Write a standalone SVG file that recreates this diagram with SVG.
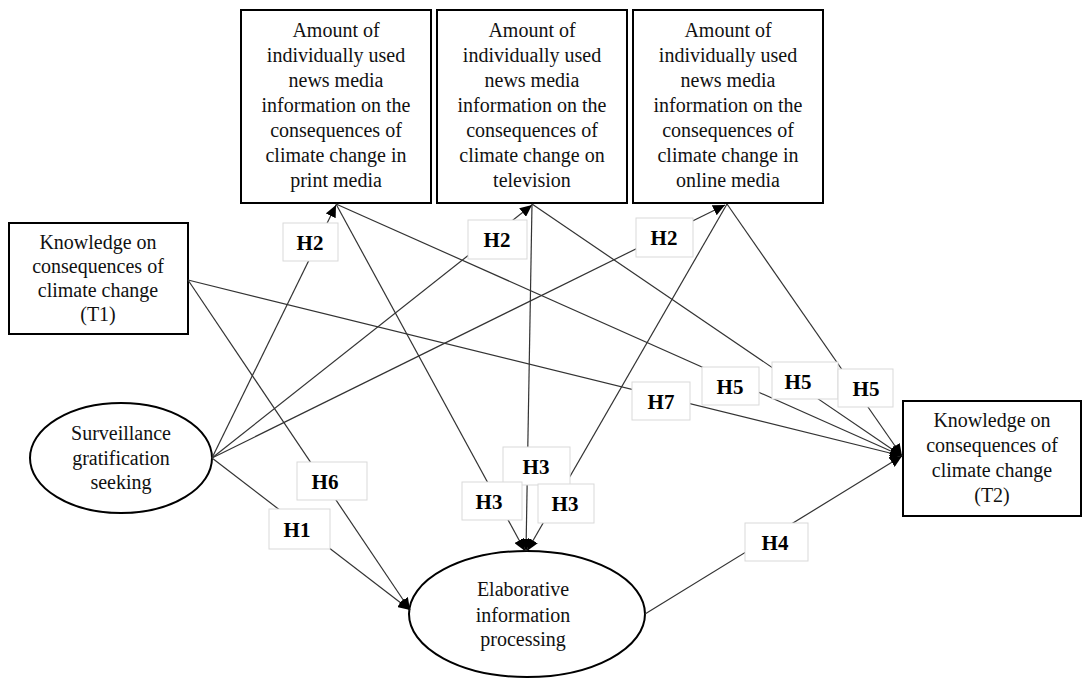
<svg xmlns="http://www.w3.org/2000/svg" width="1087" height="678" viewBox="0 0 1087 678">
<style>
  .box { fill: #fff; stroke: #000; stroke-width: 2; }
  .ell { fill: #fff; stroke: #000; stroke-width: 2; }
  .t { font-family: "Liberation Serif", "Times New Roman", serif; font-size: 20px; fill: #111; text-anchor: middle; }
  .lab rect { fill: #fff; stroke: #d9d9d9; stroke-width: 1; }
  .lab text { font-family: "Liberation Serif", "Times New Roman", serif; font-size: 21px; font-weight: bold; fill: #000; text-anchor: middle; }
  .c line { stroke: #333; stroke-width: 1.2; fill: none; }
  .a { marker-end: url(#arr); }
</style>
<defs>
  <marker id="arr" markerUnits="userSpaceOnUse" markerWidth="13" markerHeight="11" refX="12" refY="5.5" orient="auto">
    <path d="M0,0 L12,5.5 L0,11 Z" fill="#000"/>
  </marker>
</defs>
<rect width="1087" height="678" fill="#fff"/>

<g id="node-print">
  <rect class="box" x="241" y="10" width="190" height="193"/>
  <text class="t" x="336" y="37">Amount of</text>
  <text class="t" x="336" y="62">individually used</text>
  <text class="t" x="336" y="87">news media</text>
  <text class="t" x="336" y="112">information on the</text>
  <text class="t" x="336" y="137">consequences of</text>
  <text class="t" x="336" y="162">climate change in</text>
  <text class="t" x="336" y="187">print media</text>
</g>
<g id="node-tv">
  <rect class="box" x="437" y="10" width="190" height="193"/>
  <text class="t" x="532" y="37">Amount of</text>
  <text class="t" x="532" y="62">individually used</text>
  <text class="t" x="532" y="87">news media</text>
  <text class="t" x="532" y="112">information on the</text>
  <text class="t" x="532" y="137">consequences of</text>
  <text class="t" x="532" y="162">climate change on</text>
  <text class="t" x="532" y="187">television</text>
</g>
<g id="node-online">
  <rect class="box" x="633" y="10" width="190" height="193"/>
  <text class="t" x="728" y="37">Amount of</text>
  <text class="t" x="728" y="62">individually used</text>
  <text class="t" x="728" y="87">news media</text>
  <text class="t" x="728" y="112">information on the</text>
  <text class="t" x="728" y="137">consequences of</text>
  <text class="t" x="728" y="162">climate change in</text>
  <text class="t" x="728" y="187">online media</text>
</g>
<g id="node-t1">
  <rect class="box" x="9" y="223" width="179" height="111"/>
  <text class="t" x="98" y="249">Knowledge on</text>
  <text class="t" x="98" y="273">consequences of</text>
  <text class="t" x="98" y="297">climate change</text>
  <text class="t" x="98" y="321">(T1)</text>
</g>
<g id="node-surv">
  <ellipse class="ell" cx="121" cy="458" rx="91" ry="55"/>
  <text class="t" x="121" y="440">Surveillance</text>
  <text class="t" x="121" y="465">gratification</text>
  <text class="t" x="121" y="489">seeking</text>
</g>
<g id="node-elab">
  <ellipse class="ell" cx="527" cy="614" rx="118" ry="63"/>
  <text class="t" x="523" y="596">Elaborative</text>
  <text class="t" x="523" y="622">information</text>
  <text class="t" x="523" y="646">processing</text>
</g>
<g id="node-t2">
  <rect class="box" x="903" y="401" width="178" height="115"/>
  <text class="t" x="992" y="427">Knowledge on</text>
  <text class="t" x="992" y="452">consequences of</text>
  <text class="t" x="992" y="477">climate change</text>
  <text class="t" x="992" y="502">(T2)</text>
</g>

<g id="connectors" class="c">
  <line class="a" x1="212" y1="458" x2="336" y2="205"/>
  <line class="a" x1="212" y1="458" x2="532" y2="205"/>
  <line class="a" x1="212" y1="458" x2="725" y2="205"/>
  <line class="a" x1="212" y1="458" x2="410" y2="610"/>
  <line class="a" x1="188" y1="280" x2="410" y2="610"/>
  <line class="a" x1="188" y1="280" x2="902" y2="456"/>
  <line class="a" x1="336" y1="204" x2="525" y2="551"/>
  <line class="a" x1="532" y1="204" x2="526" y2="551"/>
  <line class="a" x1="727" y1="204" x2="527" y2="551"/>
  <line class="a" x1="336" y1="204" x2="902" y2="456"/>
  <line class="a" x1="532" y1="204" x2="902" y2="456"/>
  <line class="a" x1="727" y1="204" x2="902" y2="456"/>
  <line class="a" x1="645" y1="614" x2="902" y2="456"/>
</g>

<g id="labels">
  <g class="lab"><rect x="283" y="223" width="55" height="38"/><text x="310" y="250">H2</text></g>
  <g class="lab"><rect x="468" y="220" width="59" height="39"/><text x="497" y="247">H2</text></g>
  <g class="lab"><rect x="636" y="218" width="57" height="39"/><text x="664" y="245">H2</text></g>
  <g class="lab"><rect x="632" y="382" width="58" height="38"/><text x="661" y="409">H7</text></g>
  <g class="lab"><rect x="702" y="367" width="57" height="38"/><text x="730" y="394">H5</text></g>
  <g class="lab"><rect x="772" y="362" width="66" height="37"/><text x="798" y="389">H5</text></g>
  <g class="lab"><rect x="838" y="369" width="55" height="38"/><text x="866" y="396">H5</text></g>
  <g class="lab"><rect x="297" y="462" width="70" height="38"/><text x="325" y="489">H6</text></g>
  <g class="lab"><rect x="269" y="509" width="61" height="40"/><text x="297" y="537">H1</text></g>
  <g class="lab"><rect x="503" y="447" width="67" height="38"/><text x="536" y="474">H3</text></g>
  <g class="lab"><rect x="462" y="482" width="60" height="38"/><text x="489" y="509">H3</text></g>
  <g class="lab"><rect x="538" y="484" width="56" height="39"/><text x="565" y="511">H3</text></g>
  <g class="lab"><rect x="745" y="523" width="63" height="38"/><text x="775" y="550">H4</text></g>
</g>
</svg>
